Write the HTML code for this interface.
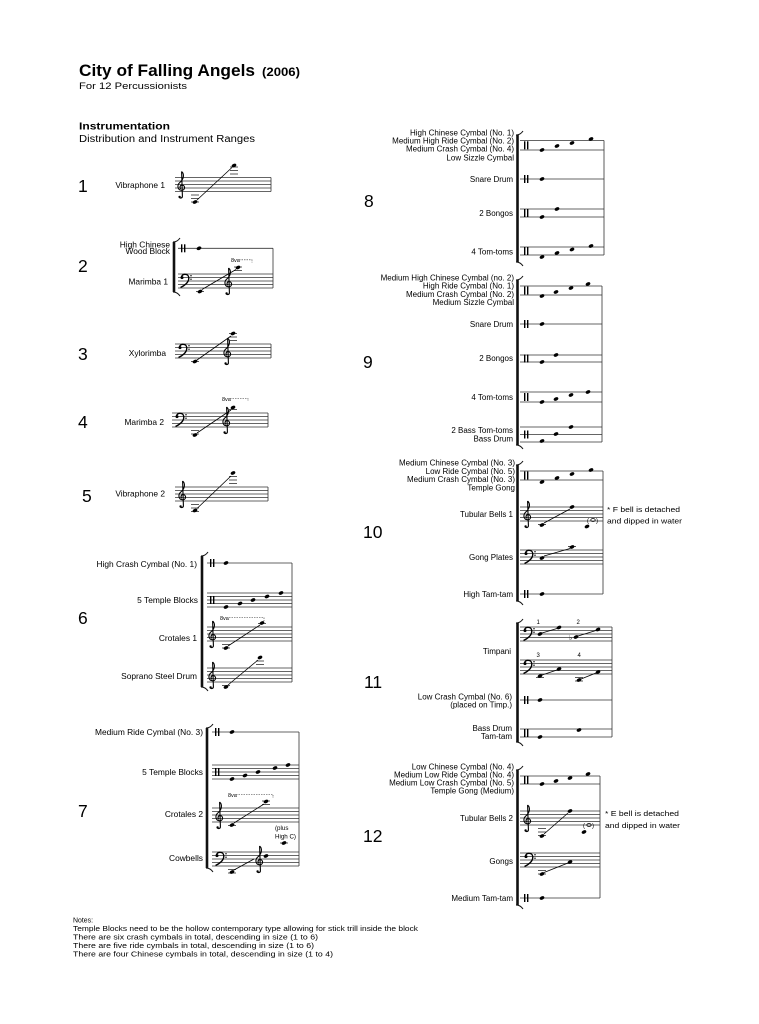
<!DOCTYPE html>
<html><head><meta charset="utf-8"><style>
html,body{margin:0;padding:0;background:#fff;}
svg{display:block;}
text{font-family:"Liberation Sans",Arial,sans-serif;fill:#000;}
.lb{font-size:8.4px;text-anchor:end;}
.rb{font-size:8px;text-anchor:end;}
.num{font-size:17.5px;}
.s{stroke:#333;stroke-width:0.8;fill:none;}
.l{stroke:#222;stroke-width:0.8;fill:none;}
.d{stroke:#000;stroke-width:0.8;fill:none;}
.br{stroke:#111;stroke-width:2.6;fill:none;}
.bh{stroke:#111;stroke-width:1;fill:none;}
.va{stroke:#333;stroke-width:0.6;fill:none;stroke-dasharray:1.5 1;}
.sm{font-size:5.5px;}
</style></head><body>
<svg width="759" height="1024" viewBox="0 0 759 1024" xmlns="http://www.w3.org/2000/svg">
<defs>
<ellipse id="n" cx="0" cy="0" rx="2.5" ry="1.7" transform="rotate(-25)" fill="#000"/>
<g id="tc" fill="none" stroke="#000" stroke-width="1.1">
<path d="M4.6,-6 C7.5,-3.5 7,1.5 2.8,5 C0,7.5 0.2,12.5 4.6,12.8 C8.2,13 8.6,8 5.2,7.6 C2.8,7.4 2.4,10.5 4,11.2 M4.6,-6 L5.4,18.5 C5.6,20.5 3.2,21.2 2.2,19.8"/>
<circle cx="2.6" cy="19.4" r="1.2" fill="#000" stroke="none"/>
</g>
<g id="bc">
<path d="M1.5,3.5 C1.5,-0.8 8.8,-1 8.8,4 C8.8,8.5 4.5,11.8 0.5,13.5" fill="none" stroke="#000" stroke-width="1.4"/>
<circle cx="2" cy="3.6" r="1.5" fill="#000"/>
<circle cx="11" cy="1.75" r="0.7" fill="#000"/>
<circle cx="11" cy="5.25" r="0.7" fill="#000"/>
</g>
<g id="pc" fill="#000"><rect x="0" y="-4" width="1.4" height="8"/><rect x="3" y="-4" width="1.4" height="8"/></g>
</defs>
<rect width="759" height="1024" fill="#fff"/>

<!-- Title -->
<text x="79" y="76" font-size="16.5" font-weight="bold" textLength="176" lengthAdjust="spacingAndGlyphs">City of Falling Angels</text>
<text x="262" y="76" font-size="12" font-weight="bold" textLength="38" lengthAdjust="spacingAndGlyphs">(2006)</text>
<text x="79" y="89" font-size="9.5" textLength="108" lengthAdjust="spacingAndGlyphs">For 12 Percussionists</text>
<text x="79" y="129.5" font-size="10.5" font-weight="bold" textLength="91" lengthAdjust="spacingAndGlyphs">Instrumentation</text>
<text x="79" y="142" font-size="10" textLength="176" lengthAdjust="spacingAndGlyphs">Distribution and Instrument Ranges</text>

<!-- System 1 -->
<text class="num" x="78" y="192">1</text>
<text class="lb" x="165" y="188">Vibraphone 1</text>
<path class="s" d="M175 177.5H271M175 181H271M175 184.5H271M175 188H271M175 191.5H271M271 177.5V191.5"/>
<use href="#tc" x="177" y="177.5"/>
<path class="l" d="M191 195H199M191 198.5H199M191 202H199M230 174H238M230 170.5H238M230 167H238"/>
<use href="#n" x="195" y="202"/><use href="#n" x="234" y="165.5"/>
<line class="d" x1="197" y1="200" x2="232" y2="167.5"/>

<!-- System 2 -->
<text class="num" x="78" y="272">2</text>
<text class="lb" x="170" y="247.5" font-size="7.6">High Chinese</text>
<text class="lb" x="170" y="254" font-size="7.6">Wood Block</text>
<text class="lb" x="168" y="284.5">Marimba 1</text>
<path class="br" d="M174 242V292"/>
<path class="bh" d="M173 242C176 242 178 241 180 238M173 292C176 292 178 293 180 296"/>
<path class="s" d="M178 248.3H273M178 274H273M178 277.5H273M178 281H273M178 284.5H273M178 288H273M273 248.3V288"/>
<use href="#pc" x="181" y="248.3"/>
<use href="#n" x="199" y="248.3"/>
<use href="#bc" x="180" y="274"/>
<use href="#tc" x="224" y="274"/>
<path class="l" d="M196 291.5H204M234 270.5H242M234 267H242"/>
<use href="#n" x="200" y="291.5"/><use href="#n" x="238" y="267.5"/>
<line class="d" x1="202" y1="289.5" x2="236" y2="269.5"/>
<text class="sm" x="231" y="262">8va</text>
<path class="va" d="M239 259.8H252V262.5"/>

<!-- System 3 -->
<text class="num" x="78" y="360">3</text>
<text class="lb" x="166" y="356">Xylorimba</text>
<path class="s" d="M175 344H271M175 347.5H271M175 351H271M175 354.5H271M175 358H271M271 344V358"/>
<use href="#bc" x="178" y="344"/>
<use href="#tc" x="223" y="344"/>
<path class="l" d="M191 361.5H199M229 340.5H237M229 337H237M229 333.5H237"/>
<use href="#n" x="195" y="361.5"/><use href="#n" x="233" y="333.5"/>
<line class="d" x1="197" y1="360" x2="231" y2="336"/>

<!-- System 4 -->
<text class="num" x="78" y="428">4</text>
<text class="lb" x="164" y="425">Marimba 2</text>
<path class="s" d="M172 413H268M172 416.5H268M172 420H268M172 423.5H268M172 427H268M268 413V427"/>
<use href="#bc" x="175" y="413"/>
<use href="#tc" x="222" y="413"/>
<path class="l" d="M191 430.5H199M191 434H199M229 409.5H237"/>
<use href="#n" x="195" y="435"/><use href="#n" x="233" y="407.5"/>
<line class="d" x1="197" y1="433" x2="231" y2="410"/>
<text class="sm" x="222" y="401">8va</text>
<path class="va" d="M230 398.5H248V401"/>

<!-- System 5 -->
<text class="num" x="82" y="502">5</text>
<text class="lb" x="165" y="496.5">Vibraphone 2</text>
<path class="s" d="M175 487H268M175 490.5H268M175 494H268M175 497.5H268M175 501H268M268 487V501"/>
<use href="#tc" x="178" y="487"/>
<path class="l" d="M191 504.5H199M191 508H199M191 511.5H199M229 483.5H237M229 480H237M229 476.5H237"/>
<use href="#n" x="195" y="510.5"/><use href="#n" x="233" y="473"/>
<line class="d" x1="197" y1="508.5" x2="231" y2="476"/>

<!-- System 6 -->
<text class="num" x="78" y="624">6</text>
<text class="lb" x="197" y="567">High Crash Cymbal (No. 1)</text>
<text class="lb" x="198" y="603">5 Temple Blocks</text>
<text class="lb" x="197" y="641">Crotales 1</text>
<text class="lb" x="197" y="679">Soprano Steel Drum</text>
<path class="br" d="M202 556V687"/>
<path class="bh" d="M201 556C204 556 206 555 208 552M201 687C204 687 206 688 208 691"/>
<path class="s" d="M207 563H292M207 593H292M207 596.5H292M207 600H292M207 603.5H292M207 607H292M207 627H292M207 630.5H292M207 634H292M207 637.5H292M207 641H292M207 668H292M207 671.5H292M207 675H292M207 678.5H292M207 682H292M292 563V682"/>
<use href="#pc" x="210" y="563"/>
<use href="#n" x="226" y="563"/>
<use href="#pc" x="210" y="600"/>
<use href="#n" x="226" y="607"/><use href="#n" x="240" y="603.5"/><use href="#n" x="253" y="600"/><use href="#n" x="267" y="596.5"/><use href="#n" x="281" y="593"/>
<use href="#tc" x="208" y="627"/>
<text class="sm" x="220" y="620">8va</text>
<path class="va" d="M229 617.5H264V621"/>
<path class="l" d="M222 644.5H230M222 648H230M258 623.5H266"/>
<use href="#n" x="226" y="648"/><use href="#n" x="262" y="623"/>
<line class="d" x1="228" y1="646" x2="260" y2="625"/>
<use href="#tc" x="208" y="668"/>
<path class="l" d="M222 685.5H230M256 664.5H264M256 661H264"/>
<use href="#n" x="226" y="687"/><use href="#n" x="260" y="657.5"/>
<line class="d" x1="228" y1="685" x2="258" y2="660"/>

<!-- System 7 -->
<text class="num" x="78" y="817">7</text>
<text class="lb" x="203" y="735">Medium Ride Cymbal (No. 3)</text>
<text class="lb" x="203" y="775">5 Temple Blocks</text>
<text class="lb" x="203" y="817">Crotales 2</text>
<text class="lb" x="203" y="861">Cowbells</text>
<path class="br" d="M207 728V868"/>
<path class="bh" d="M206 728C209 728 211 727 213 724M206 868C209 868 211 869 213 872"/>
<path class="s" d="M212 732H299M212 765H299M212 768.5H299M212 772H299M212 775.5H299M212 779H299M212 808H299M212 811.5H299M212 815H299M212 818.5H299M212 822H299M212 852H299M212 855.5H299M212 859H299M212 862.5H299M212 866H299M299 732V866"/>
<use href="#pc" x="215" y="732"/>
<use href="#n" x="232" y="732"/>
<use href="#pc" x="215" y="772"/>
<use href="#n" x="232" y="779"/><use href="#n" x="245" y="775.5"/><use href="#n" x="258" y="772"/><use href="#n" x="275" y="768"/><use href="#n" x="288" y="765"/>
<use href="#tc" x="215" y="808"/>
<text class="sm" x="228" y="797">8va</text>
<path class="va" d="M236 794.5H273V798"/>
<path class="l" d="M228 825.5H236M262 804.5H270M262 801H270"/>
<use href="#n" x="232" y="825"/><use href="#n" x="266" y="801.5"/>
<line class="d" x1="234" y1="823" x2="264" y2="804"/>
<use href="#bc" x="215" y="852"/>
<use href="#tc" x="255" y="852"/>
<path class="l" d="M228 869.5H236M228 873H236M280 843H288"/>
<use href="#n" x="232" y="872"/><use href="#n" x="266" y="856"/><use href="#n" x="284" y="843"/>
<line class="d" x1="234" y1="870" x2="254" y2="859"/>
<text x="275" y="830" font-size="6.2">(plus</text>
<text x="275" y="838.5" font-size="6.2">High C)</text>

<!-- Notes -->
<text x="73" y="922.5" font-size="7.5" textLength="20" lengthAdjust="spacingAndGlyphs">Notes:</text>
<text x="73" y="931" font-size="7.5" textLength="345" lengthAdjust="spacingAndGlyphs">Temple Blocks need to be the hollow contemporary type allowing for stick trill inside the block</text>
<text x="73" y="939.5" font-size="7.5" textLength="245" lengthAdjust="spacingAndGlyphs">There are six crash cymbals in total, descending in size (1 to 6)</text>
<text x="73" y="948" font-size="7.5" textLength="241" lengthAdjust="spacingAndGlyphs">There are five ride cymbals in total, descending in size (1 to 6)</text>
<text x="73" y="956.5" font-size="7.5" textLength="260" lengthAdjust="spacingAndGlyphs">There are four Chinese cymbals in total, descending in size (1 to 4)</text>

<!-- System 8 -->
<text class="num" x="364" y="207">8</text>
<text class="rb" x="514" y="135.5">High Chinese Cymbal (No. 1)</text>
<text class="rb" x="514" y="143.5">Medium High Ride Cymbal (No. 2)</text>
<text class="rb" x="514" y="151.5">Medium Crash Cymbal (No. 4)</text>
<text class="rb" x="514" y="160.5">Low Sizzle Cymbal</text>
<text class="rb" x="513" y="182">Snare Drum</text>
<text class="rb" x="513" y="216">2 Bongos</text>
<text class="rb" x="513" y="254.5">4 Tom-toms</text>
<path class="br" d="M517.5 135V262"/>
<path class="bh" d="M516 135C519 135 521 134 523 131M516 262C519 262 521 263 523 266"/>
<path class="s" d="M520 140.5H604M520 150H604M520 179H604M520 209H604M520 217H604M520 247H604M520 255H604M604 140.5V255"/>
<use href="#pc" x="524" y="145.3"/>
<use href="#n" x="542" y="150"/><use href="#n" x="557" y="146"/><use href="#n" x="572" y="143"/><use href="#n" x="591" y="139"/>
<use href="#pc" x="524" y="179"/>
<use href="#n" x="542" y="179"/>
<use href="#pc" x="524" y="213"/>
<use href="#n" x="542" y="217"/><use href="#n" x="557" y="209"/>
<use href="#pc" x="524" y="251"/>
<use href="#n" x="542" y="257"/><use href="#n" x="557" y="253"/><use href="#n" x="572" y="249.5"/><use href="#n" x="591" y="246"/>

<!-- System 9 -->
<text class="num" x="363" y="368">9</text>
<text class="rb" x="514" y="280.5">Medium High Chinese Cymbal (no. 2)</text>
<text class="rb" x="514" y="288.5">High Ride Cymbal (No. 1)</text>
<text class="rb" x="514" y="297">Medium Crash Cymbal (No. 2)</text>
<text class="rb" x="514" y="305">Medium Sizzle Cymbal</text>
<text class="rb" x="513" y="327">Snare Drum</text>
<text class="rb" x="513" y="361">2 Bongos</text>
<text class="rb" x="513" y="400">4 Tom-toms</text>
<text class="rb" x="513" y="433">2 Bass Tom-toms</text>
<text class="rb" x="513" y="441.5">Bass Drum</text>
<path class="br" d="M517.5 280V445"/>
<path class="bh" d="M516 280C519 280 521 279 523 276M516 445C519 445 521 446 523 449"/>
<path class="s" d="M520 286H602M520 295H602M520 324H602M520 355H602M520 362H602M520 392H602M520 402H602M520 427H602M520 434.5H602M520 442H602M602 286V442"/>
<use href="#pc" x="524" y="290.5"/>
<use href="#n" x="542" y="296"/><use href="#n" x="556" y="292"/><use href="#n" x="571" y="288"/><use href="#n" x="588" y="284"/>
<use href="#pc" x="524" y="324"/>
<use href="#n" x="542" y="324"/>
<use href="#pc" x="524" y="358.5"/>
<use href="#n" x="542" y="362"/><use href="#n" x="556" y="355"/>
<use href="#pc" x="524" y="397"/>
<use href="#n" x="542" y="402"/><use href="#n" x="556" y="399"/><use href="#n" x="571" y="395"/><use href="#n" x="588" y="392"/>
<use href="#pc" x="524" y="434.5"/>
<use href="#n" x="542" y="441"/><use href="#n" x="556" y="434"/><use href="#n" x="571" y="427"/>

<!-- System 10 -->
<text class="num" x="363" y="538">10</text>
<text class="rb" x="515" y="465.5">Medium Chinese Cymbal (No. 3)</text>
<text class="rb" x="515" y="474">Low Ride Cymbal (No. 5)</text>
<text class="rb" x="515" y="482">Medium Crash Cymbal (No. 3)</text>
<text class="rb" x="515" y="490.5">Temple Gong</text>
<text class="rb" x="513" y="517">Tubular Bells 1</text>
<text class="rb" x="513" y="560">Gong Plates</text>
<text class="rb" x="513" y="597">High Tam-tam</text>
<text x="607" y="512" font-size="7.5" textLength="73" lengthAdjust="spacingAndGlyphs">* F bell is detached</text>
<text x="607" y="523.5" font-size="7.5" textLength="75" lengthAdjust="spacingAndGlyphs">and dipped in water</text>
<path class="br" d="M517.5 465V601"/>
<path class="bh" d="M516 465C519 465 521 464 523 461M516 601C519 601 521 602 523 605"/>
<path class="s" d="M520 471H603M520 480H603M520 507H603M520 510.5H603M520 514H603M520 517.5H603M520 521H603M520 550H603M520 553.5H603M520 557H603M520 560.5H603M520 564H603M520 594H603M603 471V594"/>
<use href="#pc" x="524" y="475.5"/>
<use href="#n" x="542" y="482"/><use href="#n" x="557" y="478"/><use href="#n" x="572" y="474"/><use href="#n" x="591" y="470"/>
<use href="#tc" x="523" y="507"/>
<path class="l" d="M538 524.5H546"/>
<use href="#n" x="542" y="525"/><use href="#n" x="572" y="507"/>
<line class="d" x1="544" y1="523" x2="570" y2="509"/>
<text x="587" y="522.5" font-size="6">(</text>
<ellipse cx="593" cy="520" rx="2.2" ry="1.5" fill="none" stroke="#000" stroke-width="0.8"/>
<text x="596" y="522.5" font-size="6">)</text>
<use href="#n" x="587" y="526.5"/>
<use href="#bc" x="524" y="550"/>
<path class="l" d="M568 546.5H576"/>
<use href="#n" x="542" y="558"/><use href="#n" x="572" y="547"/>
<line class="d" x1="544" y1="556" x2="570" y2="548.5"/>
<use href="#pc" x="524" y="594"/>
<use href="#n" x="542" y="594"/>

<!-- System 11 -->
<text class="num" x="364" y="688">11</text>
<text class="rb" x="511" y="654">Timpani</text>
<text class="rb" x="512" y="699.5">Low Crash Cymbal (No. 6)</text>
<text class="rb" x="512" y="707.5">(placed on Timp.)</text>
<text class="rb" x="512" y="731">Bass Drum</text>
<text class="rb" x="512" y="739">Tam-tam</text>
<path class="br" d="M517.5 623V742"/>
<path class="bh" d="M516 623C519 623 521 622 523 619M516 742C519 742 521 743 523 746"/>
<path class="s" d="M520 627H612M520 630.5H612M520 634H612M520 637.5H612M520 641H612M520 660H612M520 663.5H612M520 667H612M520 670.5H612M520 674H612M520 700H612M520 729H612M520 737H612M612 627V737"/>
<use href="#bc" x="523" y="627"/>
<text x="536.5" y="624" font-size="6">1</text>
<text x="576.5" y="624" font-size="6">2</text>
<use href="#n" x="540" y="634"/><use href="#n" x="559" y="627.5"/>
<line class="d" x1="542" y1="633" x2="557" y2="628.5"/>
<text x="569" y="640" font-size="7">♭</text>
<use href="#n" x="576" y="637"/><use href="#n" x="598" y="629.5"/>
<line class="d" x1="578" y1="636" x2="596" y2="630.5"/>
<use href="#bc" x="523" y="660"/>
<text x="536.5" y="657" font-size="6">3</text>
<text x="577.5" y="657" font-size="6">4</text>
<path class="l" d="M536 677.5H544M575 677.5H583M575 681H583"/>
<use href="#n" x="540" y="676"/><use href="#n" x="559" y="669"/>
<line class="d" x1="542" y1="675" x2="557" y2="670"/>
<use href="#n" x="579" y="680"/><use href="#n" x="598" y="672"/>
<line class="d" x1="581" y1="679" x2="596" y2="673"/>
<use href="#pc" x="524" y="700"/>
<use href="#n" x="540" y="700"/>
<use href="#pc" x="524" y="733"/>
<use href="#n" x="540" y="737"/><use href="#n" x="579" y="730"/>

<!-- System 12 -->
<text class="num" x="363" y="842">12</text>
<text class="rb" x="514" y="769.5">Low Chinese Cymbal (No. 4)</text>
<text class="rb" x="514" y="777.5">Medium Low Ride Cymbal (No. 4)</text>
<text class="rb" x="514" y="785.5">Medium Low Crash Cymbal (No. 5)</text>
<text class="rb" x="514" y="793.5">Temple Gong (Medium)</text>
<text class="rb" x="513" y="821">Tubular Bells 2</text>
<text class="rb" x="513" y="864">Gongs</text>
<text class="rb" x="513" y="901">Medium Tam-tam</text>
<text x="605" y="816" font-size="7.5" textLength="74" lengthAdjust="spacingAndGlyphs">* E bell is detached</text>
<text x="605" y="828" font-size="7.5" textLength="75" lengthAdjust="spacingAndGlyphs">and dipped in water</text>
<path class="br" d="M517.5 770V905"/>
<path class="bh" d="M516 770C519 770 521 769 523 766M516 905C519 905 521 906 523 909"/>
<path class="s" d="M520 776H600M520 784H600M520 811H600M520 814.5H600M520 818H600M520 821.5H600M520 825H600M520 853H600M520 856.5H600M520 860H600M520 863.5H600M520 867H600M520 898H600M600 776V898"/>
<use href="#pc" x="524" y="780"/>
<use href="#n" x="542" y="784"/><use href="#n" x="556" y="781"/><use href="#n" x="570" y="778"/><use href="#n" x="588" y="774"/>
<use href="#tc" x="523" y="811"/>
<path class="l" d="M538 828.5H546M538 832H546M538 835.5H546"/>
<use href="#n" x="542" y="836"/><use href="#n" x="570" y="811"/>
<line class="d" x1="544" y1="834" x2="568" y2="813"/>
<text x="583" y="827.5" font-size="6">(</text>
<ellipse cx="589" cy="825" rx="2.2" ry="1.5" fill="none" stroke="#000" stroke-width="0.8"/>
<text x="592" y="827.5" font-size="6">)</text>
<use href="#n" x="584" y="832"/>
<use href="#bc" x="524" y="853"/>
<path class="l" d="M538 870.5H546M538 874H546"/>
<use href="#n" x="542" y="874"/><use href="#n" x="570" y="862"/>
<line class="d" x1="544" y1="872.5" x2="568" y2="863"/>
<use href="#pc" x="524" y="898"/>
<use href="#n" x="542" y="898"/>
</svg>
</body></html>
